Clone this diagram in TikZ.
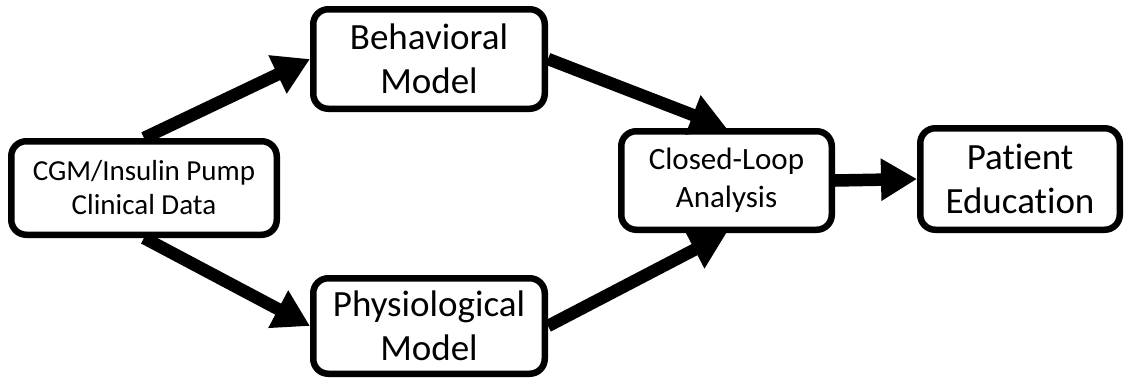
\documentclass[tikz,border=0pt]{standalone}
\usepackage{fontspec}
\setmainfont[Ligatures=NoCommon]{Carlito}
\usetikzlibrary{arrows.meta}
\tikzset{
  box/.style={draw=black, line width=6.5pt, rounded corners=15pt, fill=white,
    inner sep=0pt, align=center, text=black},
  bigtext/.style={font=\fontsize{37}{44}\selectfont},
  conn/.style={line width=12.5pt, -{Triangle[length=36pt,width=40pt]}}
}
\begin{document}
\begin{tikzpicture}[x=1pt,y=-1pt]
\useasboundingbox (0,0) rectangle (1126,378);
\node[box, minimum width=265.5pt, minimum height=93.5pt,
      font=\fontsize{29}{34}\selectfont] (cgm) at (144,188) {CGM/Insulin Pump\\Clinical Data};
\node[box, bigtext, minimum width=231.5pt, minimum height=99.5pt] (beh) at (429,59) {Behavioral\\Model};
\node[box, bigtext, minimum width=231.5pt, minimum height=95.5pt] (phys) at (429,326) {Physiological\\Model};
\node[box, minimum width=210.5pt, minimum height=98.5pt,
      font=\fontsize{31}{38}\selectfont] (cla) at (726.5,180.5) {Closed-Loop\\Analysis};
\node[box, bigtext, minimum width=199.5pt, minimum height=101.5pt] (pat) at (1020,179) {Patient\\Education};
\draw[conn] (cgm.north) -- (beh.west);
\draw[conn] (cgm.south) -- (phys.west);
\draw[conn] (beh.east) -- (cla.north);
\draw[conn] (phys.east) -- (cla.south);
\draw[conn] (cla.east) -- (pat.west);
\end{tikzpicture}
\end{document}
